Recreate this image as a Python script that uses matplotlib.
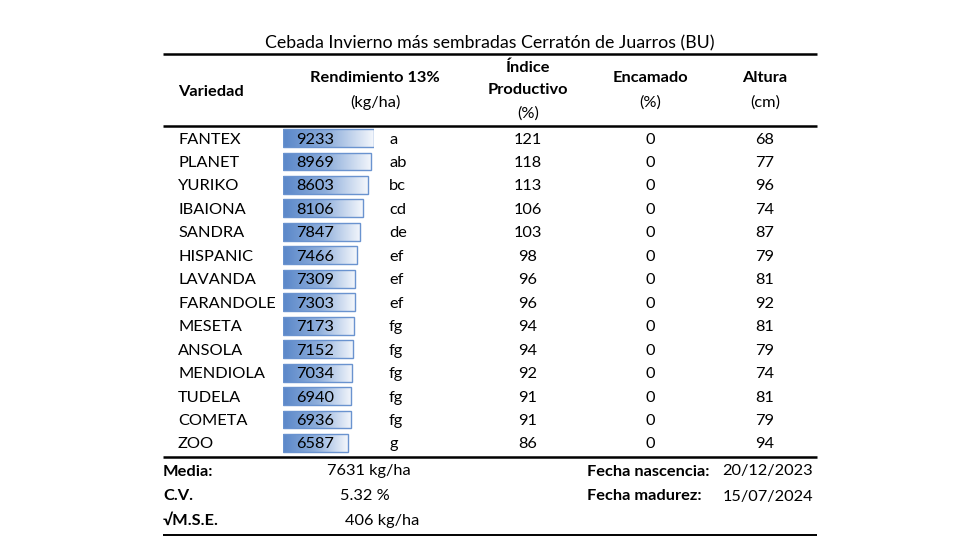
import numpy as np
import matplotlib.pyplot as plt
from matplotlib.colors import LinearSegmentedColormap

plt.rcParams['font.family'] = ['Lato', 'DejaVu Sans']

titulo = "Cebada Invierno más sembradas Cerratón de Juarros (BU)"
variedades = ["FANTEX", "PLANET", "YURIKO", "IBAIONA", "SANDRA", "HISPANIC", "LAVANDA",
              "FARANDOLE", "MESETA", "ANSOLA", "MENDIOLA", "TUDELA", "COMETA", "ZOO"]
rendimiento = [9233, 8969, 8603, 8106, 7847, 7466, 7309, 7303, 7173, 7152, 7034, 6940, 6936, 6587]
letras = ["a", "ab", "bc", "cd", "de", "ef", "ef", "ef", "fg", "fg", "fg", "fg", "fg", "g"]
indice = [121, 118, 113, 106, 103, 98, 96, 96, 94, 94, 92, 91, 91, 86]
encamado = [0] * 14
altura = [68, 77, 96, 74, 87, 79, 81, 92, 81, 79, 74, 81, 79, 94]

media = "7631 kg/ha"
cv = "5.32 %"
mse = "406 kg/ha"
f_nascencia = "20/12/2023"
f_madurez = "15/07/2024"

W, H = 980, 560
fig = plt.figure(figsize=(9.8, 5.6), dpi=100)
ax = fig.add_axes([0, 0, 1, 1])
ax.set_xlim(0, W)
ax.set_ylim(H, 0)
ax.axis("off")
ax.set_zorder(2)
ax.patch.set_alpha(0)

fs = 11.8
y0, dy = 138, 23.46
off = 1.5  # pequeño ajuste vertical del texto


def txt(x, y, s, ha="center", bold=False, size=fs):
    ax.text(x, y + off, s, ha=ha, va="center", fontsize=size,
            weight="bold" if bold else "normal")


# titulo y lineas
txt(490, 42, titulo, size=12.8)
for y, lw in [(54, 1.8), (126, 1.8), (457, 1.8), (535, 1.4)]:
    ax.plot([163, 817], [y, y], color="black", lw=lw, solid_capstyle="butt")

# cabecera
txt(178, 90, "Variedad", ha="left", bold=True)
txt(375, 77, "Rendimiento 13%", bold=True)
txt(375, 101, "(kg/ha)")
txt(528, 66, "Índice", bold=True)
txt(528, 89, "Productivo", bold=True)
txt(528, 112, "(%)")
txt(650, 77, "Encamado", bold=True)
txt(650, 101, "(%)")
txt(765, 77, "Altura", bold=True)
txt(765, 101, "(cm)")

# filas
for i, v in enumerate(variedades):
    y = y0 + i * dy
    txt(178, y, v, ha="left")
    txt(296, y, str(rendimiento[i]), ha="left")
    txt(389, y, letras[i], ha="left")
    txt(528, y, str(indice[i]))
    txt(650, y, str(encamado[i]))
    txt(765, y, str(altura[i]))

# barras de datos (rendimiento)
n = len(rendimiento)
x_left, x_max = 283, 374
top = y0 - dy / 2
bot = y0 + (n - 1) * dy + dy / 2
axb = fig.add_axes([x_left / W, 1 - bot / H, (x_max - x_left) / W, (bot - top) / H])
axb.set_zorder(1)
axb.axis("off")
axb.patch.set_alpha(0)
bh = 0.76
grad = np.linspace(0, 1, 256).reshape(1, -1)
cmap = LinearSegmentedColormap.from_list("db", ["#5a87c9", "#8eaedb", "#f4f7fc"])
bars = axb.barh(range(n), rendimiento, height=bh, left=0, color="none",
                edgecolor="#6a93cf", lw=1.0, zorder=3)
for i, b in enumerate(bars):
    im = axb.imshow(grad, cmap=cmap, aspect="auto", interpolation="bicubic",
                    extent=(0, rendimiento[i], i + bh / 2, i - bh / 2), zorder=2)
    im.set_clip_path(b)
axb.set_xlim(0, max(rendimiento))
axb.set_ylim(n - 0.5, -0.5)

# pie
txt(163, 470, "Media:", ha="left", bold=True)
txt(163, 495, "C.V.", ha="left", bold=True)
txt(163, 519, "√M.S.E.", ha="left", bold=True)
txt(327, 470, media, ha="left")
txt(340, 495, cv, ha="left")
txt(345, 519, mse, ha="left")
txt(587, 470, "Fecha nascencia:", ha="left", bold=True)
txt(587, 495, "Fecha madurez:", ha="left", bold=True)
txt(813, 470, f_nascencia, ha="right")
txt(813, 495, f_madurez, ha="right")

fig.savefig("out.png", dpi=100)
